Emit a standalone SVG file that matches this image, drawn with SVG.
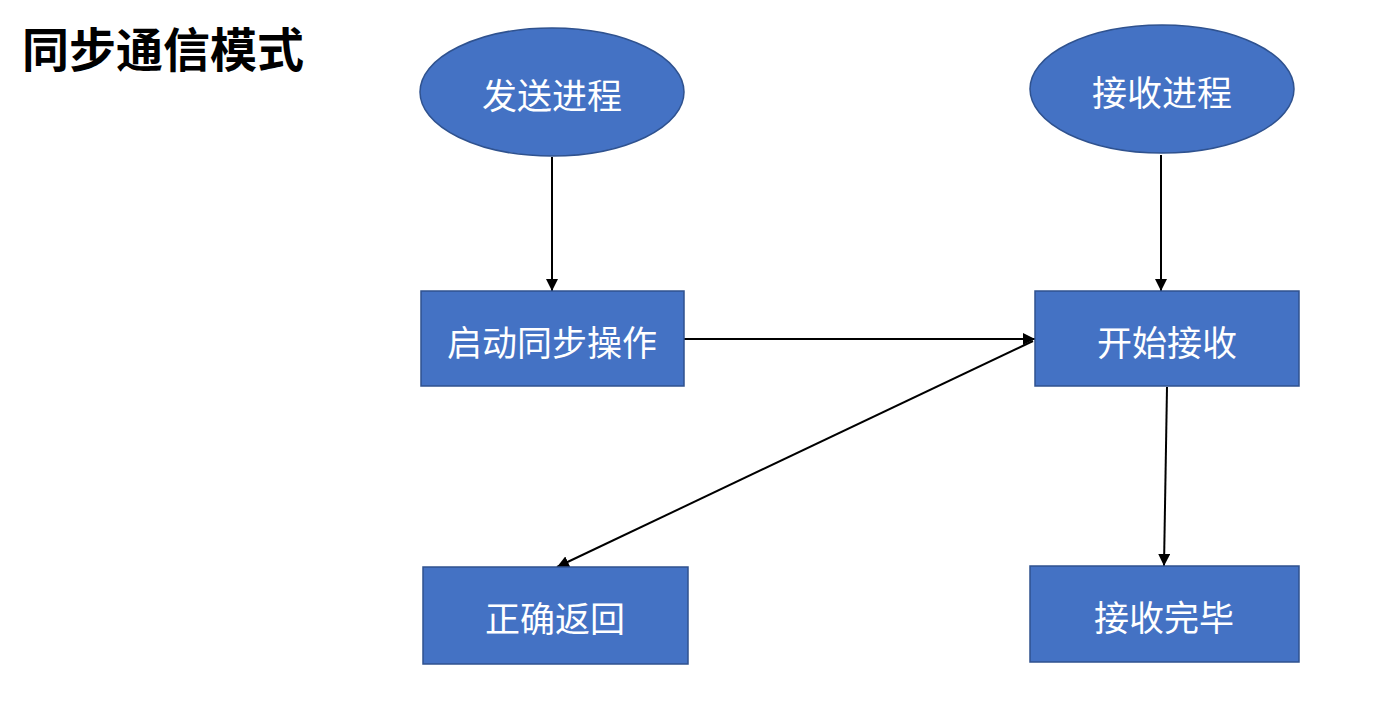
<svg xmlns="http://www.w3.org/2000/svg" width="1378" height="705" viewBox="0 0 1378 705">
<defs>
<style>
.n{fill:#4472C4;stroke:#2F528F;stroke-width:1.5}
.t{fill:#fff;font-family:"Noto Sans CJK SC","Noto Sans",sans-serif;font-size:35px;text-anchor:middle;dominant-baseline:central}
.c{stroke:#000;stroke-width:2;fill:none;marker-end:url(#a)}
</style>
<marker id="a" viewBox="0 0 10 10" refX="10" refY="5" markerWidth="6" markerHeight="6" orient="auto" markerUnits="strokeWidth">
<path d="M0,0 L10,5 L0,10 z" fill="#000"/>
</marker>
</defs>
<rect width="1378" height="705" fill="#fff"/>
<text x="22" y="67" font-family="Noto Sans CJK SC,sans-serif" font-size="47" font-weight="bold" fill="#000">同步通信模式</text>
<g id="connectors">
<line class="c" x1="552" y1="157" x2="552" y2="291"/>
<line class="c" x1="1161" y1="155" x2="1161" y2="291"/>
<line class="c" x1="684" y1="339" x2="1035" y2="339"/>
<line class="c" x1="1033" y1="341" x2="557" y2="567"/>
<line class="c" x1="1167" y1="387" x2="1164" y2="566"/>
</g>
<g id="send"><ellipse class="n" cx="552" cy="92" rx="132" ry="64"/><text class="t" x="552" y="93">发送进程</text></g>
<g id="recv"><ellipse class="n" cx="1162" cy="89" rx="132" ry="64"/><text class="t" x="1162" y="90">接收进程</text></g>
<g id="start-sync"><rect class="n" x="421" y="291" width="263" height="95"/><text class="t" x="552" y="340">启动同步操作</text></g>
<g id="start-recv"><rect class="n" x="1035" y="291" width="264" height="95"/><text class="t" x="1167" y="340">开始接收</text></g>
<g id="return-ok"><rect class="n" x="423" y="567" width="265" height="97"/><text class="t" x="555" y="616">正确返回</text></g>
<g id="recv-done"><rect class="n" x="1030" y="566" width="269" height="96"/><text class="t" x="1164" y="615">接收完毕</text></g>
</svg>
